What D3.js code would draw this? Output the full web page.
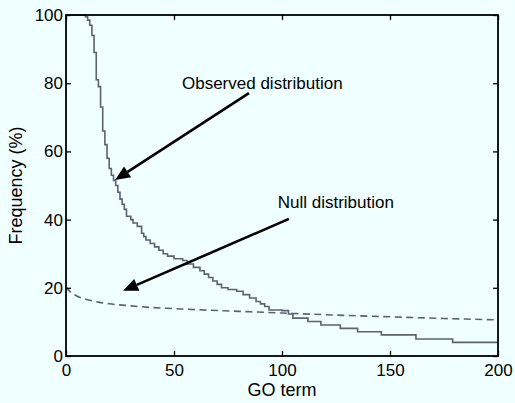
<!DOCTYPE html>
<html>
<head>
<meta charset="utf-8">
<script src="https://cdn.jsdelivr.net/npm/d3@7"></script>
<style>
  body { margin: 0; background: #f0ffff; }
  svg { display: block; }
  text { font-family: "Liberation Sans", Arial, Helvetica, sans-serif; fill: #000; }
</style>
</head>
<body>
<svg id="chart" width="515" height="403"></svg>
<script>
// observed distribution: step curve (GO term rank, frequency %)
var obsTerm = [0, 8, 9, 10, 11, 12, 13, 14, 15, 16, 17, 18, 19, 20, 21, 22, 23, 24, 25, 26, 27, 28, 30, 31, 33, 35, 36, 37, 39, 41, 43, 45, 47, 50, 54, 56, 59, 62, 64, 66, 68, 70, 72, 75, 79, 82, 85, 88, 90, 92, 94, 100, 103, 105, 112, 118, 127, 135, 146, 162, 179, 200];
var obsFreq = [100, 100, 99.5, 98.5, 97, 94, 89, 81, 79, 73, 66, 62, 58, 55, 53, 51.5, 50, 48, 46, 44.5, 43, 41, 40, 39, 38, 36, 35, 34, 33, 32, 31, 30, 29.3, 28.5, 28, 27, 26, 25, 24, 23, 22, 21, 20, 19.5, 19, 18, 17, 16, 15.3, 14.5, 13.5, 13.3, 12.3, 11.1, 10.1, 9.1, 8.1, 7.1, 6.2, 5.0, 4.0, 4.0];

// null distribution: smooth dashed curve
var nullTerm = [0, 2, 5, 10, 15, 20, 30, 40, 50, 60, 80, 100, 125, 150, 175, 200];
var nullFreq = [20.2, 18.8, 17.6, 16.5, 15.8, 15.3, 14.7, 14.2, 13.9, 13.6, 13.1, 12.6, 12.0, 11.5, 11.0, 10.6];

var xTicks = [0, 50, 100, 150, 200];
var yTicks = [0, 20, 40, 60, 80, 100];

// annotations: label, text anchor point, arrow start, arrow tip (data units)
var annLabels = ["Observed distribution", "Null distribution"];
var annText = [[53.7, 78.2], [98, 43.5]];
var annFrom = [[84.7, 77.1], [103.2, 40.2]];
var annTo = [[22.7, 51.6], [26.4, 19.1]];

var margin = { top: 15, right: 17, bottom: 47, left: 66 },
    width = 515 - margin.left - margin.right,
    height = 403 - margin.top - margin.bottom;

var lineColor = "#5b6270";

var svg = d3.select("#chart");
var g = svg.append("g")
    .attr("transform", "translate(" + margin.left + "," + margin.top + ")");

var x = d3.scaleLinear().domain([0, 200]).range([0, width]);
var y = d3.scaleLinear().domain([0, 100]).range([height, 0]);

// curves
var obs = obsTerm.map(function(t, i) { return [t, obsFreq[i]]; });
var nul = nullTerm.map(function(t, i) { return [t, nullFreq[i]]; });

g.append("path")
    .datum(nul)
    .attr("fill", "none")
    .attr("stroke", lineColor)
    .attr("stroke-width", 1.6)
    .attr("stroke-dasharray", "7,4.5")
    .attr("d", d3.line()
        .x(function(d) { return x(d[0]); })
        .y(function(d) { return y(d[1]); })
        .curve(d3.curveMonotoneX));

g.append("path")
    .datum(obs)
    .attr("fill", "none")
    .attr("stroke", lineColor)
    .attr("stroke-width", 1.6)
    .attr("d", d3.line()
        .x(function(d) { return x(d[0]); })
        .y(function(d) { return y(d[1]); })
        .curve(d3.curveStepAfter));

// axes, ticks pointing inward
function styleAxis(sel) {
    sel.select(".domain").remove();
    sel.selectAll(".tick line").attr("stroke", "#000").attr("stroke-width", 1.3);
    sel.selectAll(".tick text")
        .style("font-size", "17px")
        .style("font-family", "'Liberation Sans', Arial, sans-serif");
}

g.append("g")
    .attr("transform", "translate(0," + height + ")")
    .call(d3.axisBottom(x).tickValues(xTicks).tickSizeInner(-5).tickSizeOuter(0).tickPadding(8))
    .call(styleAxis);

g.append("g")
    .call(d3.axisLeft(y).tickValues(yTicks).tickSizeInner(-5).tickSizeOuter(0).tickPadding(3))
    .call(styleAxis);

g.append("g")
    .call(d3.axisTop(x).tickValues(xTicks).tickSizeInner(-5).tickSizeOuter(0).tickFormat(""))
    .call(styleAxis);

g.append("g")
    .attr("transform", "translate(" + width + ",0)")
    .call(d3.axisRight(y).tickValues(yTicks).tickSizeInner(-5).tickSizeOuter(0).tickFormat(""))
    .call(styleAxis);

// frame
g.append("rect")
    .attr("width", width)
    .attr("height", height)
    .attr("fill", "none")
    .attr("stroke", "#000")
    .attr("stroke-width", 1.8);

// axis titles
g.append("text")
    .attr("x", width / 2)
    .attr("y", height + 40)
    .attr("text-anchor", "middle")
    .style("font-size", "18px")
    .text("GO term");

g.append("text")
    .attr("transform", "translate(" + (-44) + "," + (height / 2) + ") rotate(-90)")
    .attr("text-anchor", "middle")
    .style("font-size", "18px")
    .text("Frequency (%)");

// annotations with arrows
annLabels.forEach(function(lbl, i) {
    g.append("text")
        .attr("x", x(annText[i][0]))
        .attr("y", y(annText[i][1]))
        .style("font-size", "17px")
        .text(lbl);

    var x0 = x(annFrom[i][0]), y0 = y(annFrom[i][1]),
        x1 = x(annTo[i][0]), y1 = y(annTo[i][1]);
    var ang = Math.atan2(y1 - y0, x1 - x0);
    var headLen = 15, headW = 6.5;
    var bx = x1 - headLen * Math.cos(ang), by = y1 - headLen * Math.sin(ang);

    g.append("line")
        .attr("x1", x0).attr("y1", y0)
        .attr("x2", bx).attr("y2", by)
        .attr("stroke", "#000")
        .attr("stroke-width", 2.6);

    var px = -Math.sin(ang), py = Math.cos(ang);
    g.append("path")
        .attr("d", "M" + x1 + "," + y1 +
            "L" + (bx + px * headW) + "," + (by + py * headW) +
            "L" + (bx - px * headW) + "," + (by - py * headW) + "Z")
        .attr("fill", "#000");
});
</script>
</body>
</html>
